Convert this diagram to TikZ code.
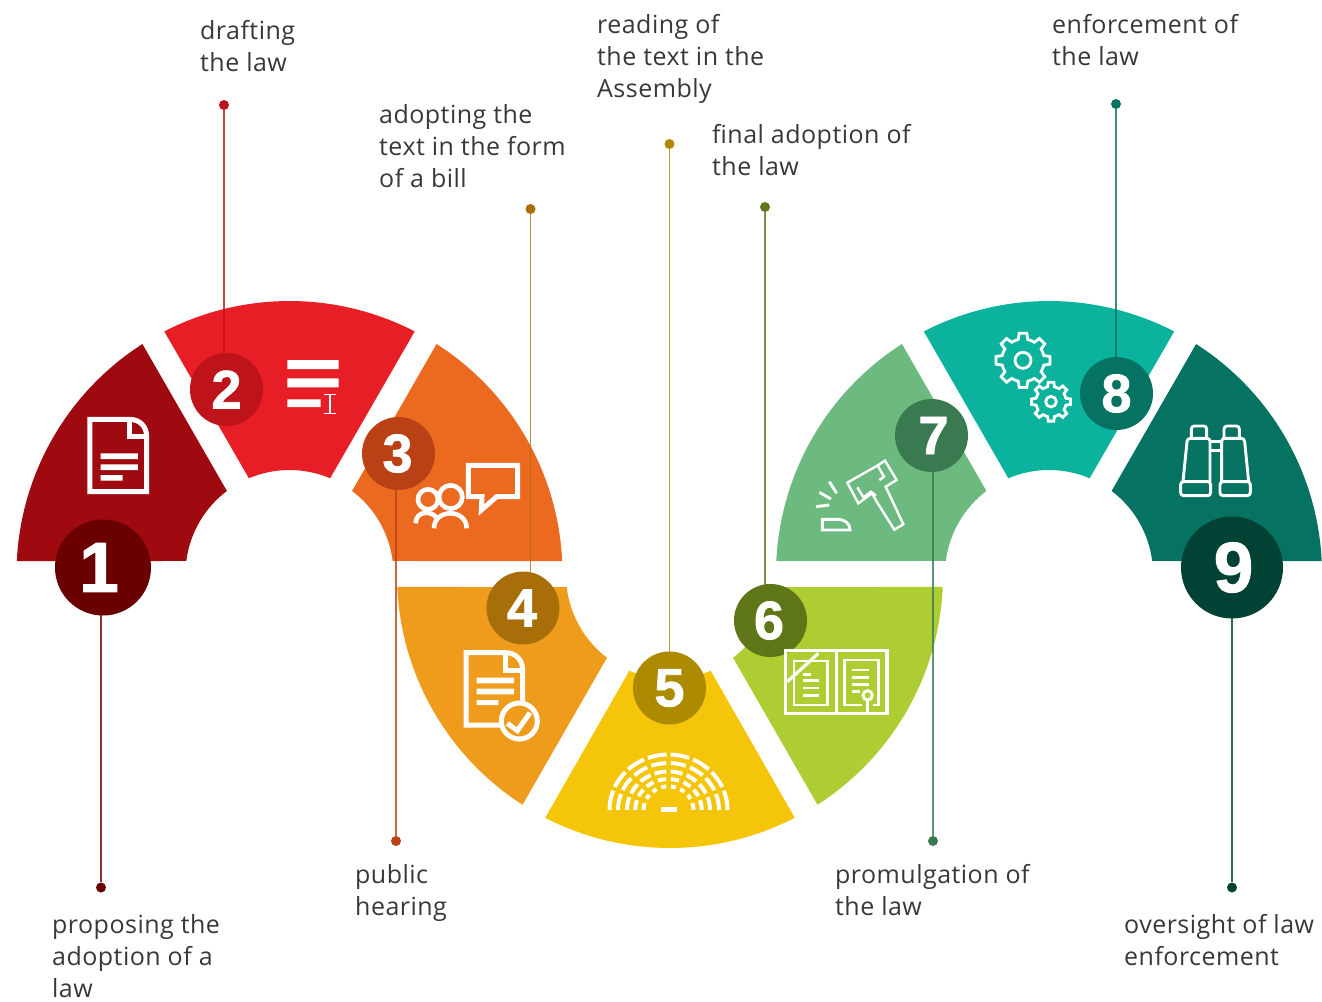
\documentclass[tikz,border=0pt]{standalone}
\usepackage{fontspec}
\setmainfont{Open Sans}[LetterSpace=1.9]
\newfontfamily\digitfont{Liberation Sans}[BoldFeatures={FakeBold=1.5}]
\usetikzlibrary{backgrounds}
\definecolor{s1}{HTML}{9F0910}\definecolor{c1}{HTML}{6B0000}
\definecolor{s2}{HTML}{E71E25}\definecolor{c2}{HTML}{BF131B}
\definecolor{s3}{HTML}{EB6A20}\definecolor{c3}{HTML}{B94115}
\definecolor{s4}{HTML}{EF9B1C}\definecolor{c4}{HTML}{A86E09}
\definecolor{s5}{HTML}{F5C509}\definecolor{c5}{HTML}{AD8B00}
\definecolor{s6}{HTML}{ADCD32}\definecolor{c6}{HTML}{5F7618}
\definecolor{s7}{HTML}{6CBA80}\definecolor{c7}{HTML}{3A7A50}
\definecolor{s8}{HTML}{0CB39C}\definecolor{c8}{HTML}{067362}
\definecolor{s9}{HTML}{067362}\definecolor{c9}{HTML}{024235}
\definecolor{txt}{HTML}{383838}
\newcommand{\sector}[7]{% cx cy a1 a2 a3 a4 colour
  \fill[#7] ([shift={(#3:273)}]#1,#2) arc[start angle=#3,end angle=#4,radius=273pt]
    -- ([shift={(#5:104)}]#1,#2) arc[start angle=#5,end angle=#6,radius=104pt] -- cycle;}
\newcommand{\gear}[4]{% cx cy rroot rtip
  \draw[gearline] ([shift={(#1,#2)}]-13:#3)
   foreach \i in {0,...,7} {
     -- ([shift={(#1,#2)}]\i*45-13:#3) -- ([shift={(#1,#2)}]\i*45-8:#4)
     -- ([shift={(#1,#2)}]\i*45+8:#4) -- ([shift={(#1,#2)}]\i*45+13:#3)
     arc[start angle=\i*45+13,end angle=\i*45+32,radius=#3 pt]
   } -- cycle;}
\tikzset{
  num/.style={circle,inner sep=0pt,text=white,font=\digitfont\bfseries\fontsize{54}{54}\selectfont,minimum size=73pt},
  bignum/.style={circle,inner sep=0pt,text=white,font=\digitfont\bfseries\fontsize{71}{71}\selectfont},
  dot/.style={circle,inner sep=0pt,minimum size=10pt},
  lab/.style={anchor=north west,inner sep=0pt,align=left,text=txt,font=\fontsize{25}{32}\selectfont},
  stem/.style={line width=1.1pt,opacity=0.8},
  ic/.style={draw=white,line width=5pt,fill=none,line join=miter},
  thin/.style={draw=white,line width=2.9pt,fill=none,line join=miter},
  gearline/.style={draw=white,line width=2.8pt,line join=miter,fill=none},
}
\begin{document}
\begin{tikzpicture}[x=1pt,y=1pt,yscale=-1]
\useasboundingbox (0,0) rectangle (1322,1001);
% number circles
\node[bignum,fill=c1,minimum size=96pt] (n1) at (103,567.5) {\kern-8pt 1};
\node[num,fill=c2] (n2) at (226.5,389.5) {2};
\node[num,fill=c3] (n3) at (398.5,453.5) {\kern-2pt 3};
\node[num,fill=c4] (n4) at (523,608) {\kern-2pt 4};
\node[num,fill=c5] (n5) at (669.5,688) {5};
\node[num,fill=c6] (n6) at (770.5,620.5) {\kern-3pt 6};
\node[num,fill=c7] (n7) at (931.5,435.5) {7\kern-4pt};
\node[num,fill=c8] (n8) at (1116.5,393.5) {8};
\node[bignum,fill=c9,minimum size=102pt] (n9) at (1232,567.5) {9\kern-3pt};
% dots
\node[dot,fill=c1] (d1) at (101,887.5) {};
\node[dot,fill=c2] (d2) at (224,105) {};
\node[dot,fill=c3] (d3) at (396,841) {};
\node[dot,fill=c4] (d4) at (530.5,209) {};
\node[dot,fill=c5] (d5) at (669.5,144) {};
\node[dot,fill=c6] (d6) at (765,207) {};
\node[dot,fill=c7] (d7) at (933,841) {};
\node[dot,fill=c8] (d8) at (1116,104) {};
\node[dot,fill=c9] (d9) at (1232,887.5) {};
\begin{scope}[on background layer]
  \sector{289.5}{574}{182.7}{237.4}{233}{187.2}{s1}
  \sector{289.5}{574}{242.7}{297.3}{293}{247}{s2}
  \sector{289.5}{574}{-57.4}{-2.7}{-7.2}{-53}{s3}
  \sector{670}{575}{177.5}{122.7}{127.3}{173.3}{s4}
  \sector{670}{575}{62.8}{117.2}{113}{67}{s5}
  \sector{670}{575}{2.5}{57.3}{52.7}{6.7}{s6}
  \sector{1049}{574}{182.7}{237.4}{233}{187.2}{s7}
  \sector{1049}{574}{242.7}{297.3}{293}{247}{s8}
  \sector{1049}{574}{-57.4}{-2.7}{-7.2}{-53}{s9}
  \foreach \k in {1,...,9}{\draw[stem,draw=c\k] (d\k) -- (d\k |- n\k);}
\end{scope}
% labels
\node[lab] (t1) at (52,914) {proposing the\\adoption of a\\law};
\node[lab] (t2) at (200,20) {drafting\\the law};
\node[lab] (t3) at (355,864) {public\\hearing};
\node[lab] (t4) at (379,104) {adopting the\\text in the form\\of a bill};
\node[lab] (t5) at (597,14) {reading of\\the text in the\\Assembly};
\node[lab] (t6) at (712,124) {final adoption of\\the law};
\node[lab] (t7) at (835,864) {promulgation of\\the law};
\node[lab] (t8) at (1052,14) {enforcement of\\the law};
\node[lab] (t9) at (1124,914) {oversight of law\\enforcement};
% icon 1
\begin{scope}[shift={(0,290)},scale=0.33333]
  \draw[ic] (270,388) -- (388,388) .. controls (420,388) and (440,410) .. (440,440) -- (440,605) -- (270,605) -- cycle;
  \draw[ic] (388,388) -- (388,440) -- (440,440);
  \fill[white] (302,490) rectangle (414,507) (302,523) rectangle (414,540) (302,555) rectangle (368,572);
\end{scope}
% icon 2
\begin{scope}[shift={(0,290)},scale=0.33333]
  \fill[white] (862,210) rectangle (1016,237) (862,265) rectangle (1016,292) (862,328) rectangle (962,351);
  \draw[white,line width=1.4pt] (972,313) -- (1008,313) (972,371) -- (1008,371) (990,313) -- (990,371);
\end{scope}
% icon 3
\begin{scope}[shift={(350,340)},scale=0.33333]
  \draw[ic] (355,376) -- (503,376) -- (503,470) -- (440,470) -- (394,510) -- (396,470) -- (355,470) -- cycle;
  \draw[white,line width=4.6pt] (234,478) circle (30);
  \draw[white,line width=4.6pt] (302,471) circle (35);
  \draw[white,line width=4.6pt] (197,550) .. controls (197,510) and (250,510) .. (262,538);
  \draw[white,line width=4.6pt] (252,565) .. controls (252,505) and (350,505) .. (350,565);
\end{scope}
% icon 4
\begin{scope}[shift={(350,340)},scale=0.33333]
  \draw[ic] (348,938) -- (466,938) .. controls (498,938) and (518,960) .. (518,990) -- (518,1155) -- (348,1155) -- cycle;
  \draw[ic] (466,938) -- (466,990) -- (518,990);
  \fill[white] (380,1013) rectangle (492,1030) (380,1046) rectangle (492,1063) (380,1080) rectangle (445,1095);
  \draw[ic,fill=s4] (508,1143) circle (54);
  \draw[ic] (472,1150) -- (502,1172) -- (540,1118);
\end{scope}
% icon 5
\begin{scope}[shift={(668.5,810)}]
  \foreach \rx/\ry/\g in {59/55.5/2,50.5/47/2.5,41.5/38.5/3,33.3/31/4,25/23.7/5.5}{
    \foreach \i in {0,...,7}{
      \pgfmathsetmacro{\aa}{180+22.5*\i+(\i==0?0:\g)}
      \pgfmathsetmacro{\bb}{180+22.5*(\i+1)-(\i==7?0:\g)}
      \draw[white,line width=4pt] (\aa:\rx pt and \ry pt) arc[start angle=\aa,end angle=\bb,x radius=\rx pt,y radius=\ry pt];
    }}
  \fill[white] (-7.5,-3.3) rectangle (8,1.7);
\end{scope}
% icon 6
\begin{scope}[shift={(540,580)},scale=0.33333]
  \draw[thin,line width=3.2pt] (737,212) rectangle (1041,401);
  \draw[thin,line width=3.6pt] (889,212) -- (889,401);
  \draw[thin] (762,243) rectangle (862,375);
  \draw[thin,line width=3.2pt] (742,305) -- (835,220);
  \draw[thin] (790,283) -- (812,283) (790,302) -- (838,302) (790,324) -- (838,324) (790,346) -- (838,346);
  \draw[thin] (965,375) -- (914,375) -- (914,240) -- (1015,240) -- (1015,375) -- (1000,375);
  \draw[thin] (935,270) -- (988,270) (935,292) -- (988,292) (935,313) -- (988,313) (935,335) -- (960,335);
  \draw[thin,fill=s6] (983,346) circle (14);
  \draw[thin] (983,360) -- (983,400);
\end{scope}
% icon 7
\begin{scope}[shift={(770,290)},scale=0.33333]
  \draw[thin,line width=2.4pt] (232,578) -- (320,528) -- (345,512) -- (380,570) -- (347,590) -- (400,703) -- (373,719) -- (322,638) -- (306,610) -- (265,640) -- cycle;
  \draw[thin,line width=2.4pt] (262,592) -- (280,622) -- (303,605) -- (318,617);
  \draw[thin,line width=2.4pt] (322,525) -- (342,560) -- (328,570);
  \draw[thin] (138,650) -- (178,645) (148,607) -- (183,627) (178,575) -- (200,610);
  \draw[thin] (157,688) -- (200,688) .. controls (225,688) and (240,700) .. (240,720) -- (157,720) -- cycle;
\end{scope}
% icon 8
\begin{scope}[shift={(980,300)},scale=0.33333]
  \gear{129}{181}{64}{82}
  \draw[gearline] (129,181) circle (24);
  \gear{213}{305}{46}{59}
  \draw[gearline] (213,305) circle (16);
\end{scope}
% icon 9
\begin{scope}[shift={(980,300)},scale=0.33333]
  \draw[thin,rounded corners=3pt] (634,415) -- (634,378) -- (680,378) -- (680,415);
  \draw[thin,rounded corners=3pt] (732,415) -- (732,378) -- (778,378) -- (778,415);
  \draw[thin,rounded corners=3pt] (690,545) -- (690,415) -- (622,415) -- (609,545);
  \draw[thin,rounded corners=3pt] (725,545) -- (725,415) -- (793,415) -- (806,545);
  \draw[thin,rounded corners=3pt] (602,545) rectangle (692,587);
  \draw[thin,rounded corners=3pt] (720,545) rectangle (811,587);
  \draw[thin] (690,425) -- (725,425) (690,452) -- (725,452);
\end{scope}
\end{tikzpicture}
\end{document}
